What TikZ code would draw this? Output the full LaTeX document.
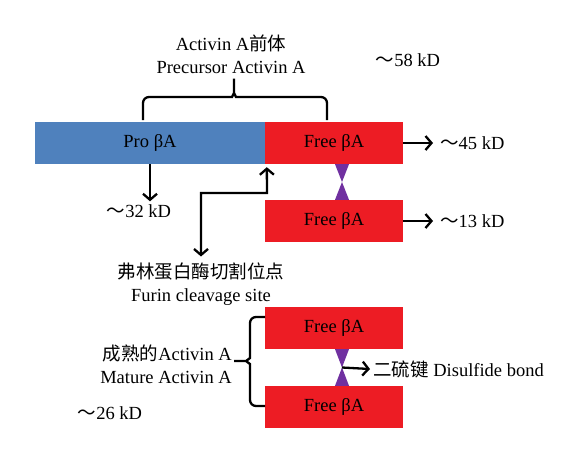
\documentclass[tikz,border=0pt]{standalone}
\usepackage{fontspec}
\setmainfont{Liberation Serif}
\newfontfamily\cjk{Noto Sans CJK SC}
\usetikzlibrary{arrows.meta,calc}
\definecolor{proBlue}{HTML}{4F81BD}
\definecolor{freeRed}{HTML}{ED1C24}
\definecolor{bondPurple}{HTML}{7030A0}
\newcommand{\kdTilde}{{\cjk ～}}
\newcommand{\bondTie}[2]{\fill[bond] ([xshift=1pt]#1.south) -- ([xshift=15pt]#1.south) -- ($(#1.south)!0.5!(#2.north)+(8,0)$) -- ([xshift=15pt]#2.north) -- ([xshift=1pt]#2.north) -- ($(#1.south)!0.5!(#2.north)+(8,0)$) -- cycle;}

\begin{document}
\begin{tikzpicture}[x=1pt,y=-1pt,
  font=\fontsize{18.5}{23}\selectfont,
  bar/.style={draw=none, minimum height=42pt, inner sep=0pt},
  probar/.style={bar, fill=proBlue, minimum width=230pt},
  freebar/.style={bar, fill=freeRed, minimum width=138pt},
  label/.style={inner sep=0pt},
  arr/.style={line width=2.3pt, -{Straight Barb[length=6pt,width=14pt]}},
  arrboth/.style={line width=2.3pt, {Straight Barb[length=6pt,width=14pt]}-{Straight Barb[length=6pt,width=14pt]}},
  curly/.style={line width=2.3pt, rounded corners=6pt},
  bond/.style={fill=bondPurple}]
\useasboundingbox[fill=white] (0,0) rectangle (569,464);
% bars
\node[probar] (pro) at (150,143) {Pro βA};
\node[freebar] (free1) at (334,143) {Free βA};
\node[freebar] (free2) at (334,221) {Free βA};
\node[freebar] (free3) at (334,328) {Free βA};
\node[freebar] (free4) at (334,407) {Free βA};
% labels
\node[label, align=center] (precursor) at (231,54) {Activin A{\cjk 前体}\\Precursor Activin A};
\node[label] (kd58) at (408,60) {\kdTilde58 kD};
\node[label, anchor=west] (kd45) at (440,143) {\kdTilde45 kD};
\node[label, anchor=west] (kd13) at (440,221) {\kdTilde13 kD};
\node[label] (kd32) at (139,211) {\kdTilde32 kD};
\node[label, align=center] (furin) at (201,284) {{\cjk 弗林蛋白酶切割位点}\\Furin cleavage site};
\node[label, align=right, anchor=east] (mature) at (232,364) {{\cjk 成熟的}Activin A\\Mature Activin A};
\node[label] (kd26) at (110,413) {\kdTilde26 kD};
\node[label, anchor=west] (bondlbl) at (373,369) {{\cjk 二硫键} Disulfide bond};
% braces
\draw[curly] (143,120) |- (226,97) .. controls (232,97) and (234,93) .. (234,87) -- (234,75)
  -- (234,87) .. controls (234,93) and (236,97) .. (242,97) -| (327,120);
\draw[curly] (265,317) -| (250,352) .. controls (250,358) and (246,361) .. (240,361) -- (233,361)
  -- (240,361) .. controls (246,361) and (250,364) .. (250,370) |- (265,406);
% disulfide bonds
\bondTie{free1}{free2}
\bondTie{free3}{free4}
\coordinate (waist) at ($(free3.south)!0.5!(free4.north)+(8,0)$);
% arrows
\draw[arr] (free1.east) -- ([xshift=-7pt]kd45.west);
\draw[arr] (free2.east) -- ([xshift=-7pt]kd13.west);
\draw[arr] (pro.south) -- ([yshift=3pt]pro.south |- kd32.north);
\coordinate (furinbend) at (267,193);
\draw[arrboth] ([yshift=6pt]furin.north) |- (furinbend) -- ([xshift=2pt,yshift=-3pt]free1.south west);
\draw[arr] (waist) -- ([xshift=-3pt]bondlbl.west);
\end{tikzpicture}
\end{document}
